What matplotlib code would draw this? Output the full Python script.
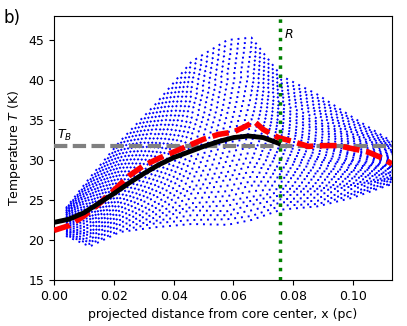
import numpy as np
import matplotlib
matplotlib.use("Agg")
import matplotlib.pyplot as plt

track_x = [0.004, 0.012, 0.022, 0.034, 0.046, 0.058, 0.066, 0.076, 0.088, 0.100, 0.113]

# temperature tracks of the point cloud (K), low / mid / high parts
cloud_low = [
    [20.5, 19.2, 21.0, 21.6, 22.0, 21.9, 22.5, 23.8, 24.2, 25.3, 27.0],
    [20.7, 19.7, 21.6, 22.4, 23.1, 23.1, 23.7, 24.7, 24.9, 25.8, 27.3],
    [20.9, 20.1, 22.2, 23.2, 24.1, 24.3, 24.9, 25.6, 25.7, 26.4, 27.6],
    [21.1, 20.6, 22.8, 24.0, 25.2, 25.5, 26.1, 26.4, 26.4, 26.9, 27.8],
    [21.2, 21.0, 23.4, 24.8, 26.3, 26.8, 27.3, 27.3, 27.1, 27.4, 28.1],
    [21.4, 21.5, 24.0, 25.7, 27.3, 28.0, 28.5, 28.2, 27.9, 27.9, 28.4],
    [21.6, 21.9, 24.6, 26.5, 28.4, 29.2, 29.7, 29.1, 28.6, 28.5, 28.7],
]
cloud_mid = [
    [21.8, 22.4, 25.2, 27.3, 29.5, 30.4, 30.9, 30.0, 29.4, 29.0, 29.0],
    [22.0, 22.8, 25.8, 28.1, 30.5, 31.6, 32.1, 30.8, 30.1, 29.5, 29.2],
    [22.2, 23.3, 26.4, 28.9, 31.6, 32.8, 33.3, 31.7, 30.8, 30.0, 29.5],
    [22.3, 23.7, 26.9, 29.7, 32.7, 34.1, 34.5, 32.6, 31.6, 30.6, 29.8],
    [22.5, 24.2, 27.5, 30.5, 33.8, 35.3, 35.7, 33.5, 32.3, 31.1, 30.1],
    [22.7, 24.6, 28.1, 31.3, 34.8, 36.5, 36.9, 34.3, 33.0, 31.6, 30.3],
]
cloud_high = [
    [22.9, 25.1, 28.7, 32.1, 35.9, 37.7, 38.1, 35.2, 33.8, 32.1, 30.6],
    [23.1, 25.5, 29.3, 32.9, 37.0, 38.9, 39.3, 36.1, 34.5, 32.7, 30.9],
    [23.3, 26.0, 29.9, 33.8, 38.0, 40.1, 40.5, 37.0, 35.2, 33.2, 31.2],
    [23.4, 26.4, 30.5, 34.6, 39.1, 41.4, 41.7, 37.9, 36.0, 33.7, 31.5],
    [23.6, 26.9, 31.1, 35.4, 40.2, 42.6, 42.9, 38.7, 36.7, 34.2, 31.7],
    [23.8, 27.3, 31.7, 36.2, 41.2, 43.8, 44.1, 39.6, 37.5, 34.8, 32.0],
    [24.0, 27.8, 32.3, 37.0, 42.3, 45.0, 45.3, 40.5, 38.2, 35.3, 32.3],
]
# tracks lying in between the ones above
cloud_between = [
    [20.6, 19.5, 21.2, 22.1, 22.5, 22.6, 23.0, 24.3, 24.5, 25.6, 27.1],
    [20.8, 19.9, 21.9, 22.8, 23.7, 23.6, 24.4, 25.1, 25.3, 26.0, 27.5],
    [21.0, 20.4, 22.5, 23.6, 24.6, 24.9, 25.4, 26.0, 26.1, 26.7, 27.7],
    [21.1, 20.8, 23.1, 24.4, 25.8, 26.1, 26.8, 26.8, 26.7, 27.1, 27.9],
    [21.3, 21.2, 23.7, 25.3, 26.7, 27.5, 27.9, 27.8, 27.5, 27.7, 28.3],
    [21.5, 21.7, 24.3, 26.1, 27.9, 28.5, 29.2, 28.6, 28.3, 28.2, 28.5],
    [21.7, 22.2, 24.9, 26.9, 28.9, 29.8, 30.3, 29.6, 29.0, 28.7, 28.9],
    [21.9, 22.6, 25.5, 27.7, 30.0, 31.0, 31.6, 30.3, 29.8, 29.3, 29.1],
    [22.1, 23.0, 26.1, 28.5, 31.1, 32.2, 32.7, 31.3, 30.4, 29.8, 29.3],
    [22.2, 23.5, 26.7, 29.3, 32.1, 33.5, 33.9, 32.1, 31.2, 30.3, 29.7],
    [22.4, 23.9, 27.2, 30.1, 33.3, 34.7, 35.1, 33.1, 31.9, 30.8, 29.9],
    [22.6, 24.4, 27.8, 30.9, 34.3, 35.9, 36.3, 33.9, 32.6, 31.3, 30.2],
    [22.8, 24.8, 28.4, 31.7, 35.3, 37.1, 37.5, 34.7, 33.4, 31.9, 30.4],
    [23.0, 25.3, 29.0, 32.5, 36.5, 38.3, 38.7, 35.6, 34.1, 32.4, 30.7],
    [23.2, 25.7, 29.6, 33.3, 37.5, 39.5, 39.9, 36.5, 34.8, 32.9, 31.0],
    [23.3, 26.2, 30.2, 34.2, 38.6, 40.8, 41.1, 37.4, 35.6, 33.4, 31.3],
    [23.5, 26.6, 30.8, 35.0, 39.7, 42.0, 42.3, 38.3, 36.3, 33.9, 31.6],
    [23.7, 27.1, 31.4, 35.8, 40.7, 43.2, 43.5, 39.1, 37.1, 34.5, 31.8],
    [23.9, 27.5, 32.0, 36.6, 41.8, 44.4, 44.7, 40.0, 37.8, 35.0, 32.1],
]

# model fit (black) and averaged profile (red)
fit_x = [0.0, 0.005, 0.01, 0.015, 0.02, 0.025, 0.03, 0.035, 0.04, 0.045,
         0.05, 0.055, 0.06, 0.065, 0.07, 0.075]
fit_T = [22.2, 22.6, 23.4, 24.6, 25.8, 27.1, 28.3, 29.4, 30.3, 31.0,
         31.7, 32.3, 32.8, 33.0, 32.8, 32.1]

avg_x = [0.0, 0.005, 0.01, 0.015, 0.02, 0.025, 0.03, 0.035, 0.04, 0.045,
         0.05, 0.055, 0.06, 0.064, 0.067, 0.07, 0.075, 0.08, 0.085, 0.09,
         0.095, 0.1, 0.105, 0.11, 0.113]
avg_T = [21.2, 21.8, 23.0, 24.5, 26.2, 28.0, 29.3, 30.2, 31.0, 31.8,
         32.6, 33.2, 33.5, 34.2, 34.8, 33.8, 32.8, 32.3, 31.7, 31.8,
         31.8, 31.4, 31.0, 30.2, 29.5]

T_B = 31.7
R = 0.0755

fig = plt.figure(figsize=(4.07, 3.26), dpi=100)
ax = fig.add_axes([0.1327, 0.1411, 0.8304, 0.8098])

for track in cloud_low + cloud_mid + cloud_high:
    ax.plot(track_x, track, color="#0000ff", lw=1.4, ls=(0, (1, 2.5)), zorder=2)
for track in cloud_between:
    ax.plot(track_x, track, color="#0000ff", lw=1.4, ls=(1.7, (1, 2.5)), zorder=2)

ax.axhline(T_B, color="gray", lw=3, ls=(0, (3.2, 1.3)), zorder=3)
ax.plot(avg_x, avg_T, color="red", lw=4, ls=(0, (3, 1.2)), zorder=4)
ax.plot(fit_x, fit_T, color="black", lw=3.5, zorder=5)
ax.axvline(R, color="green", lw=2.5, ls=":", zorder=6)

ax.text(0.001, 32.6, r"$T_B$", fontsize=9)
ax.text(0.0768, 45.3, r"$R$", fontsize=9)

ax.set_xlim(0, 0.113)
ax.set_ylim(15, 48)
ax.set_xticks([0, 0.02, 0.04, 0.06, 0.08, 0.10])
ax.set_yticks([15, 20, 25, 30, 35, 40, 45])
ax.tick_params(labelsize=9)
ax.set_xlabel("projected distance from core center, x (pc)", fontsize=9)
ax.set_ylabel(r"Temperature $T$ (K)", fontsize=9)
fig.text(0.008, 0.93, "b)", fontsize=12)

fig.savefig("out.png", dpi=100)
